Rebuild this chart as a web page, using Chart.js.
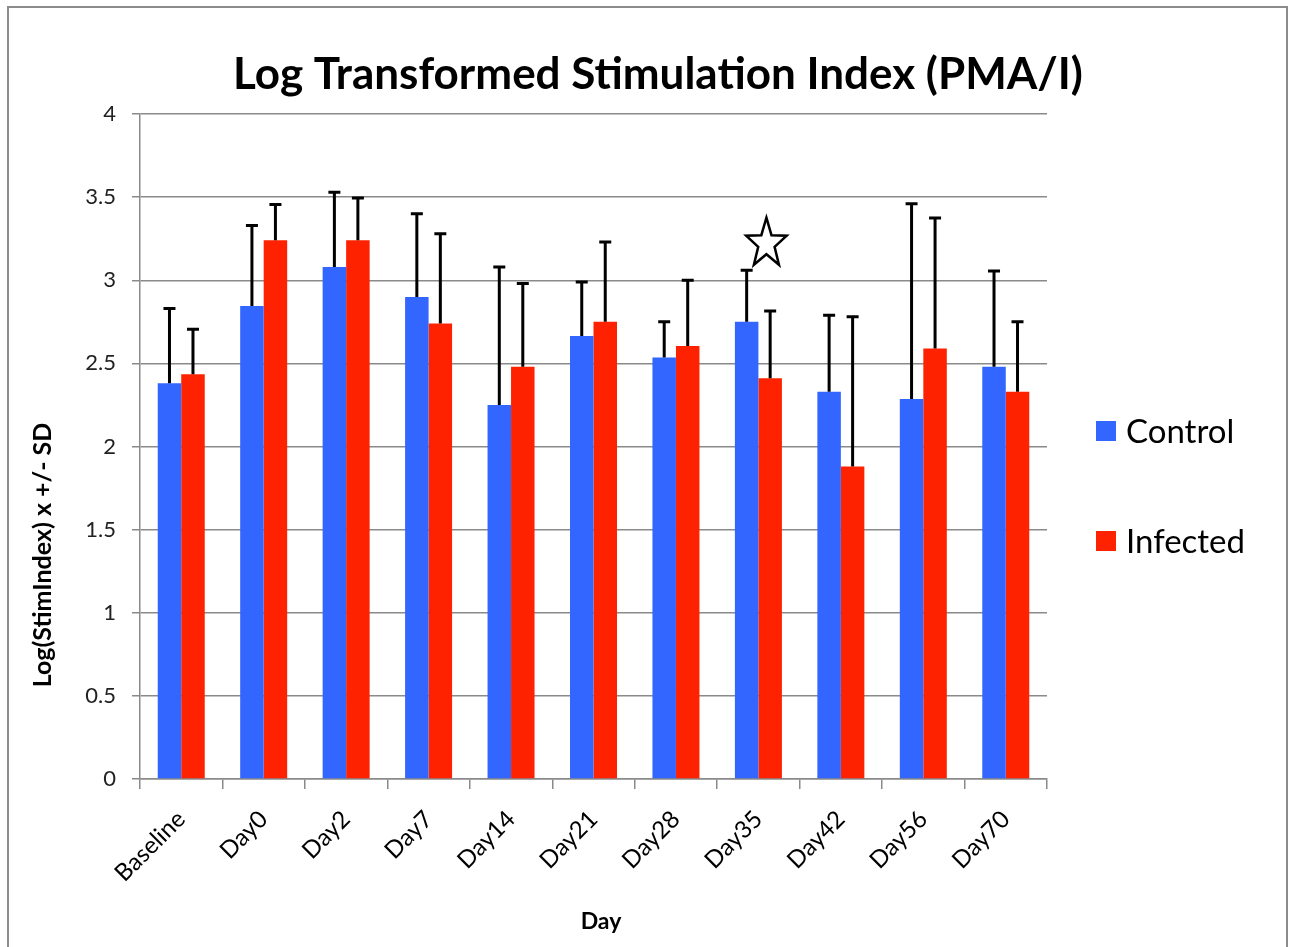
<!DOCTYPE html>
<html><head><meta charset="utf-8">
<script src="https://cdn.jsdelivr.net/npm/chart.js@4/dist/chart.umd.min.js"></script>
<style>html,body{margin:0;padding:0;background:#fff;overflow:hidden;}</style>
</head><body>
<canvas id="c" width="1290" height="947"></canvas>
<script>
const categories = ['Baseline','Day0','Day2','Day7','Day14','Day21','Day28','Day35','Day42','Day56','Day70'];
const controlMean = [2.38, 2.845, 3.08, 2.90, 2.25, 2.665, 2.535, 2.75, 2.33, 2.285, 2.48];
const controlSD   = [0.45, 0.485, 0.45, 0.50, 0.83, 0.325, 0.215, 0.31, 0.46, 1.175, 0.575];
const infectedMean = [2.435, 3.24, 3.24, 2.74, 2.48, 2.75, 2.605, 2.41, 1.88, 2.59, 2.33];
const infectedSD   = [0.27, 0.215, 0.255, 0.54, 0.50, 0.48, 0.395, 0.405, 0.90, 0.785, 0.42];
const seriesNames = ['Control', 'Infected'];
const yTickLabels = ['0', '0.5', '1', '1.5', '2', '2.5', '3', '3.5', '4'];
const yMin = 0, yMax = 4, yStep = 0.5;
const starMarker = { category: 'Day35', value: 3.22 };
const chartTitle = 'Log Transformed Stimulation Index (PMA/I)';
const yTitle = 'Log(StimIndex) x +/- SD';
const xTitle = 'Day';

const BLUE = '#3366FF', RED = '#FF2200', GRID = '#8a8a8a';
const FONT = 'Lato, "Open Sans", sans-serif';

const sds = [controlSD, infectedSD];

const extras = {
  id: 'extras',
  beforeDraw(chart) {
    const ctx = chart.ctx;
    ctx.save();
    ctx.fillStyle = '#fff';
    ctx.fillRect(0, 0, chart.width, chart.height);
    ctx.strokeStyle = '#8c8c8c';
    ctx.lineWidth = 2;
    ctx.strokeRect(8, 7, 1279, 980);
    ctx.restore();
  },
  afterDatasetsDraw(chart) {
    const ctx = chart.ctx;
    const ys = chart.scales.y;
    ctx.save();
    ctx.strokeStyle = '#000';
    ctx.lineWidth = 3;
    chart.data.datasets.forEach((ds, i) => {
      const meta = chart.getDatasetMeta(i);
      meta.data.forEach((bar, j) => {
        const top = ys.getPixelForValue(ds.data[j] + sds[i][j]);
        ctx.beginPath();
        ctx.moveTo(bar.x, bar.y);
        ctx.lineTo(bar.x, top);
        ctx.moveTo(bar.x - 6, top);
        ctx.lineTo(bar.x + 6, top);
        ctx.stroke();
      });
    });
    ctx.restore();
  },
  afterDraw(chart) {
    const ctx = chart.ctx;
    const xs = chart.scales.x, ys = chart.scales.y;
    ctx.save();
    // title
    ctx.fillStyle = '#000';
    ctx.font = 'bold 44px ' + FONT;
    ctx.textAlign = 'center';
    ctx.textBaseline = 'alphabetic';
    ctx.fillText(chartTitle, 658, 89);

    // star marker
    const sx = xs.getPixelForValue(categories.indexOf(starMarker.category)) + 8;
    const sy = ys.getPixelForValue(starMarker.value);
    const R = 26, r = 10.5, kx = 0.82;
    ctx.beginPath();
    for (let k = 0; k < 10; k++) {
      const rad = k % 2 === 0 ? R : r;
      const a = -Math.PI / 2 + k * Math.PI / 5;
      const px = sx + Math.cos(a) * rad * kx, py = sy + Math.sin(a) * rad;
      if (k === 0) ctx.moveTo(px, py); else ctx.lineTo(px, py);
    }
    ctx.closePath();
    ctx.fillStyle = '#fff';
    ctx.fill();
    ctx.lineWidth = 2.5;
    ctx.strokeStyle = '#000';
    ctx.stroke();

    // y axis title
    ctx.fillStyle = '#000';
    ctx.font = 'bold 25px ' + FONT;
    ctx.textAlign = 'center';
    ctx.textBaseline = 'middle';
    ctx.save();
    ctx.translate(43, 555);
    ctx.rotate(-Math.PI / 2);
    ctx.fillText(yTitle, 0, 0);
    ctx.restore();

    // x axis title
    ctx.font = 'bold 23px ' + FONT;
    ctx.fillText(xTitle, 601, 922);

    // legend
    const items = [{ y: 431 }, { y: 541 }];
    ctx.font = '33px ' + FONT;
    ctx.textAlign = 'left';
    ctx.textBaseline = 'middle';
    items.forEach((it, i) => {
      ctx.fillStyle = chart.data.datasets[i].backgroundColor;
      ctx.fillRect(1096, it.y - 10, 20, 20);
      ctx.fillStyle = '#000';
      ctx.fillText(chart.data.datasets[i].label, 1126, it.y + 1);
    });
    ctx.restore();
  }
};

new Chart(document.getElementById('c'), {
  type: 'bar',
  data: {
    labels: categories,
    datasets: [
      { label: seriesNames[0], data: controlMean, backgroundColor: BLUE, borderWidth: 0 },
      { label: seriesNames[1], data: infectedMean, backgroundColor: RED, borderWidth: 0 }
    ]
  },
  options: {
    responsive: false,
    animation: false,
    devicePixelRatio: 1,
    layout: { padding: { left: 40, right: 243, top: 114, bottom: 0 } },
    datasets: { bar: { categoryPercentage: 0.57, barPercentage: 1.0 } },
    plugins: {
      legend: { display: false },
      tooltip: { enabled: false },
      title: { display: false }
    },
    scales: {
      x: {
        grid: { drawOnChartArea: false, drawTicks: true, tickLength: 10, color: GRID, lineWidth: 1.5, offset: true },
        border: { color: GRID, width: 1.5 },
        ticks: { maxRotation: 45, minRotation: 45, color: '#000', padding: 16, font: { family: FONT, size: 24 } },
        afterFit(s) { s.height = 168; }
      },
      y: {
        min: yMin, max: yMax,
        grid: { color: GRID, lineWidth: 1.5, tickLength: 8 },
        border: { color: GRID, width: 1.5 },
        ticks: {
          stepSize: yStep, color: '#222', padding: 16, font: { family: FONT, size: 22 },
          callback: (v, idx) => yTickLabels[idx]
        },
        afterFit(s) { s.width = 100; }
      }
    }
  },
  plugins: [extras]
});
</script>
</body></html>
